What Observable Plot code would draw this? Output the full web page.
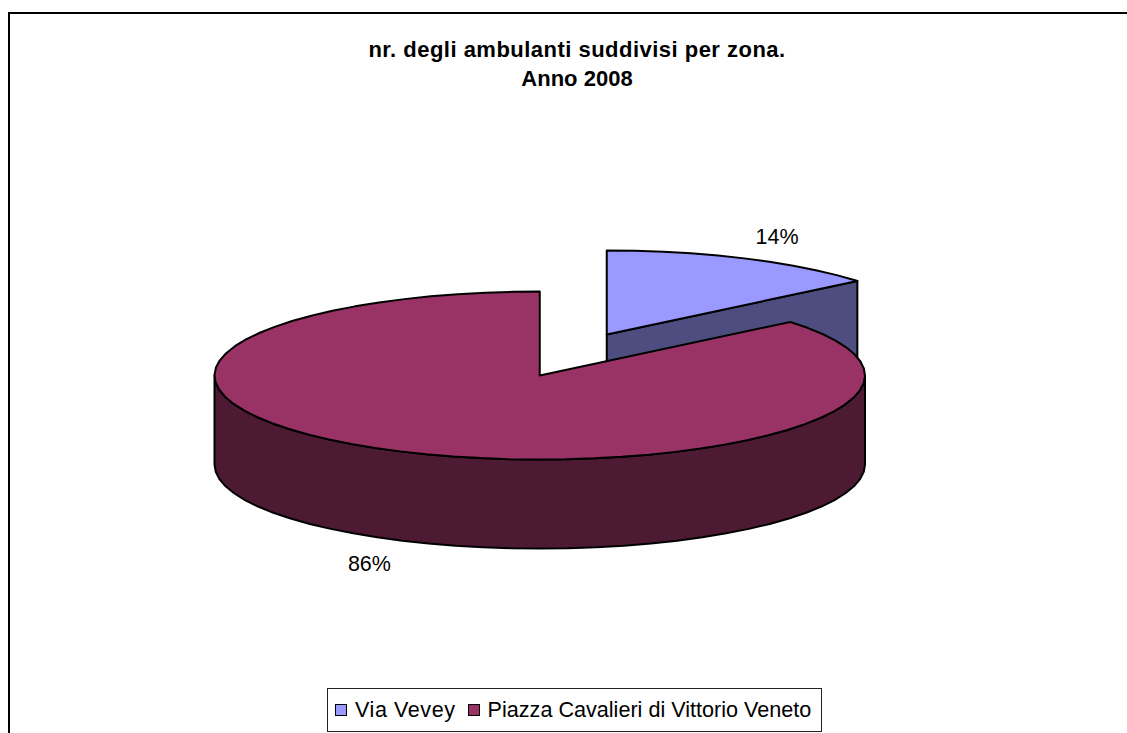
<!DOCTYPE html>
<html>
<head>
<meta charset="utf-8">
<script src="https://cdn.jsdelivr.net/npm/d3@7"></script>
<script src="https://cdn.jsdelivr.net/npm/@observablehq/plot@0.6"></script>
<style>
html,body{margin:0;padding:0;background:#fff;}
#page{position:relative;width:1127px;height:733px;overflow:hidden;font-family:"Liberation Sans",Arial,sans-serif;color:#000;}
#page svg{position:absolute;left:0;top:0;}
#frame{position:absolute;left:8px;top:12px;width:1400px;height:800px;border:2px solid #000;}
#title{position:absolute;left:0;width:1154px;top:35px;text-align:center;font-weight:700;font-size:22px;line-height:29px;}
#title span{display:block;}
#title span:first-child{letter-spacing:.48px;}
#legend{position:absolute;left:327px;top:688px;width:493px;height:42px;border:1px solid #222;box-sizing:content-box;display:flex;align-items:center;font-size:21.6px;white-space:nowrap;background:#fff;}
#legend i{display:inline-block;width:10px;height:10px;border:1.5px solid #000;margin:0 8px 0 7px;}
#legend span:first-of-type{letter-spacing:.55px;margin-right:5px;}
</style>
</head>
<body>
<div id="page">
<div id="frame"></div>
<div id="chart"></div>
<div id="title"></div>
<div id="legend"></div>
</div>
<script>
const titleLines = ["nr. degli ambulanti suddivisi per zona.", "Anno 2008"];
const categories = ["Via Vevey", "Piazza Cavalieri di Vittorio Veneto"];
const shares = [14, 86];
const labels = ["14%", "86%"];
const topColors = ["#9999FF", "#993366"];
const wallColors = ["#4D4D80", "#4D1A33"];

// 3-D pie: unit circle seen at a tilt; y unit = pie semi-minor axis
const depth = 1.06;
const explode = {dx: 0.206, dy: -0.488};
const step = 5;
const total = d3.sum(shares);
const cut = shares[0] / total * 360;
const rad = d => d * Math.PI / 180;
const rim = (deg, ox = 0, oy = 0) => ({x: ox + Math.sin(rad(deg)), y: oy - Math.cos(rad(deg))});
function arc(from, to, ox = 0, oy = 0) {
  const pts = [];
  for (let a = from; a < to; a += step) pts.push(rim(a, ox, oy));
  pts.push(rim(to, ox, oy));
  return pts;
}
const sink = p => ({x: p.x, y: p.y + depth});
const closed = pts => [...pts, pts[0]];

const ex = explode.dx, ey = explode.dy;
const smallApex = {x: ex, y: ey};
const smallEnd = rim(cut, ex, ey);
const smallWall = closed([smallApex, smallEnd, sink(smallEnd), sink(smallApex)]);
const smallTop = closed([smallApex, ...arc(0, cut, ex, ey)]);
const front = arc(90, 270);
const mainWall = closed([...front, ...front.slice().reverse().map(sink)]);
const mainTop = closed([{x: 0, y: 0}, ...arc(cut, 360)]);

const polys = [
  [smallWall, wallColors[0]],
  [smallTop, topColors[0]],
  [mainWall, wallColors[1]],
  [mainTop, topColors[1]]
];

const midSmall = rim(cut / 2);
const midMain = rim(cut + (360 - cut) / 2);
const labelRadius = 1.23;
const labelRows = [
  {x: ex + midSmall.x * labelRadius, y: ey + midSmall.y * labelRadius, t: labels[0]},
  {x: midMain.x * labelRadius, y: depth + midMain.y * labelRadius, t: labels[1]}
];

const chart = Plot.plot({
  width: 1127, height: 733,
  margin: 0,
  x: {domain: [-1, 1], range: [214, 864.5], axis: null},
  y: {domain: [-1, 1], range: [291, 459], axis: null},
  style: {background: "transparent"},
  marks: [
    ...polys.map(([pts, color]) => Plot.line(pts, {x: "x", y: "y", fill: color, stroke: "#000", strokeWidth: 2, strokeLinejoin: "round"})),
    Plot.text(labelRows.slice(0, 1), {x: "x", y: "y", text: "t", dy: -4, fontSize: 21.5, fill: "#000", fontFamily: "Liberation Sans"}),
    Plot.text(labelRows.slice(1), {x: "x", y: "y", text: "t", dy: 6, fontSize: 21.5, fill: "#000", fontFamily: "Liberation Sans"})
  ]
});
document.getElementById("chart").append(chart);

const title = document.getElementById("title");
titleLines.forEach(t => {
  const s = document.createElement("span");
  s.textContent = t;
  title.append(s);
});
const legend = document.getElementById("legend");
categories.forEach((c, i) => {
  const sw = document.createElement("i");
  sw.style.background = topColors[i];
  const s = document.createElement("span");
  s.textContent = c;
  legend.append(sw, s);
});
</script>
</body>
</html>
